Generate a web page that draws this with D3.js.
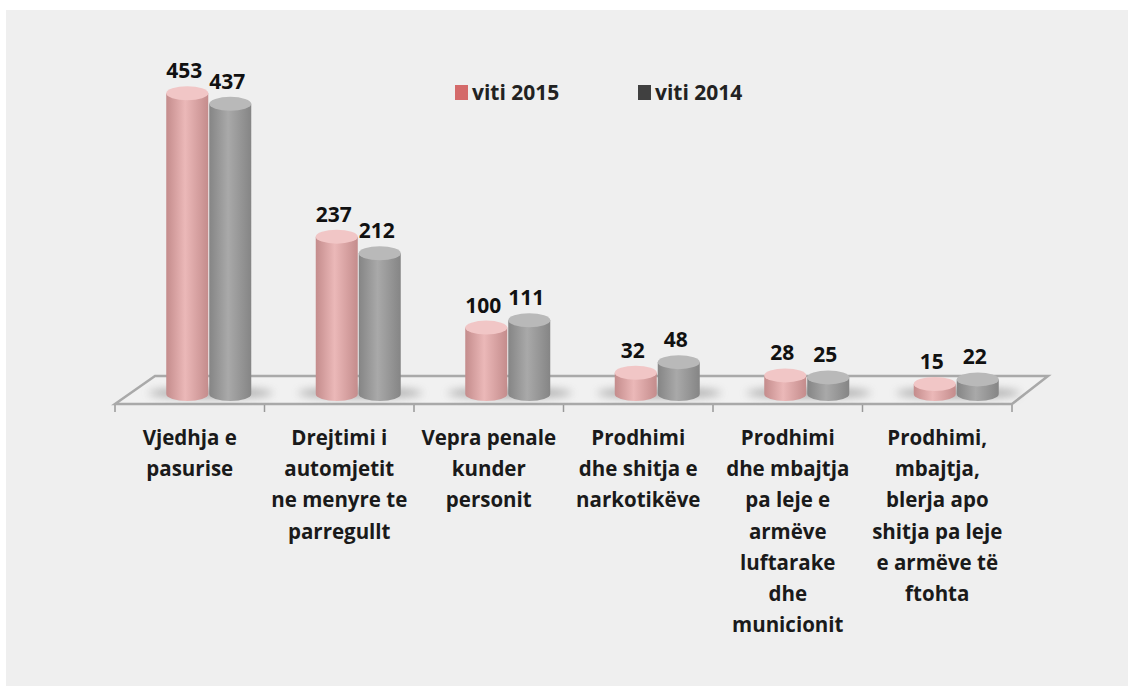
<!DOCTYPE html>
<html lang="sq">
<head>
<meta charset="UTF-8">
<title>Veprat penale 2015 / 2014</title>
<script src="https://d3js.org/d3.v7.min.js"></script>
<style>
  body { margin: 0; background: #fff; }
  svg text { font-family: "Open Sans", Lato, sans-serif; font-weight: bold; }
</style>
</head>
<body>
<svg width="1128" height="686"></svg>
<script>
// data
const categories = [
  ["Vjedhja e", "pasurise"],
  ["Drejtimi i", "automjetit", "ne menyre te", "parregullt"],
  ["Vepra penale", "kunder", "personit"],
  ["Prodhimi", "dhe shitja e", "narkotikëve"],
  ["Prodhimi", "dhe mbajtja", "pa leje e", "armëve", "luftarake", "dhe", "municionit"],
  ["Prodhimi,", "mbajtja,", "blerja apo", "shitja pa leje", "e armëve të", "ftohta"]
];
const seriesNames = ["viti 2015", "viti 2014"];
const values2015 = [453, 237, 100, 32, 28, 15];
const values2014 = [437, 212, 111, 48, 25, 22];

const svg = d3.select("svg");

// panel background
svg.append("rect").attr("x", 6).attr("y", 10).attr("width", 1122).attr("height", 676).attr("fill", "#efefef");

const x = d3.scaleBand().domain(d3.range(categories.length)).range([115, 1012]);
const y = d3.scaleLinear().domain([0, 500]).range([394, 62]);
const series = d3.scalePoint().domain([0, 1]).range([-21.5, 21.5]);

const depth = 19;   // shift of the mid-depth of the floor
const rx = 21, ry = 7;

// gradients
const defs = svg.append("defs");
function grad(id, edge, mid) {
  const g = defs.append("linearGradient").attr("id", id);
  g.append("stop").attr("offset", "0%").attr("stop-color", edge);
  g.append("stop").attr("offset", "45%").attr("stop-color", mid);
  g.append("stop").attr("offset", "100%").attr("stop-color", edge);
}
grad("g2015", "#c48c8c", "#ebb8b8");
grad("g2014", "#858585", "#a9a9a9");
defs.append("filter").attr("id", "blur")
  .attr("x", "-50%").attr("y", "-200%").attr("width", "200%").attr("height", "500%")
  .append("feGaussianBlur").attr("stdDeviation", 4);

const bodyFill = ["url(#g2015)", "url(#g2014)"];
const topFill = ["#f1c6c6", "#b9b9b9"];

// floor
const floor = [[115, 404], [1012, 404], [1048, 376], [155, 376]];
svg.append("polygon")
  .attr("points", floor.map(p => p.join(",")).join(" "))
  .attr("fill", "#f1f1f1").attr("stroke", "#a9a9a9").attr("stroke-width", 2.5);

// ticks
svg.append("g").selectAll("line")
  .data(d3.range(categories.length + 1))
  .join("line")
  .attr("x1", i => i < categories.length ? x(i) : x.range()[1])
  .attr("x2", i => i < categories.length ? x(i) : x.range()[1])
  .attr("y1", 405).attr("y2", 412)
  .attr("stroke", "#999").attr("stroke-width", 1.5);

// shadows
svg.append("g").selectAll("ellipse")
  .data(d3.range(categories.length))
  .join("ellipse")
  .attr("cx", i => x(i) + x.bandwidth() / 2 + depth + 2)
  .attr("cy", 393)
  .attr("rx", 62).attr("ry", 5)
  .attr("fill", "#6f6f6f").attr("opacity", 0.55)
  .attr("filter", "url(#blur)");

// cylinders
const bars = [];
categories.forEach((c, i) => {
  [values2015[i], values2014[i]].forEach((v, s) => bars.push({ i, s, v }));
});
const cx = d => x(d.i) + x.bandwidth() / 2 + depth + series(d.s);

const cyl = svg.append("g").selectAll("g").data(bars).join("g");
cyl.append("path")
  .attr("d", d => {
    const c = cx(d), top = y(d.v), bot = y(0);
    return `M${c - rx},${top} L${c - rx},${bot} A${rx},${ry} 0 0 0 ${c + rx},${bot} L${c + rx},${top} Z`;
  })
  .attr("fill", d => bodyFill[d.s]);
cyl.append("ellipse")
  .attr("cx", cx).attr("cy", d => y(d.v))
  .attr("rx", rx).attr("ry", ry)
  .attr("fill", d => topFill[d.s]);

// value labels
svg.append("g").selectAll("text").data(bars).join("text")
  .attr("x", d => cx(d) - 3)
  .attr("y", d => y(d.v) - 15)
  .attr("text-anchor", "middle")
  .attr("font-size", 21)
  .attr("fill", "#111")
  .text(d => d.v);

// category labels
const lab = svg.append("g").selectAll("text").data(categories).join("text")
  .attr("text-anchor", "middle")
  .attr("font-size", 20.5)
  .attr("fill", "#1a1a1a")
  .attr("transform", (d, i) => `translate(${x(i) + x.bandwidth() / 2},445)`);
lab.selectAll("tspan").data(d => d).join("tspan")
  .attr("x", 0).attr("y", (d, k) => k * 31.2)
  .text(d => d);

// legend
const legendColors = ["#d46a6a", "#404040"];
const leg = svg.append("g").selectAll("g").data(seriesNames).join("g")
  .attr("transform", (d, i) => `translate(${[455, 638][i]},85)`);
leg.append("rect").attr("width", 13).attr("height", 15).attr("fill", (d, i) => legendColors[i]);
leg.append("text").attr("x", 17).attr("y", 14.5).attr("font-size", 21).attr("fill", "#222").text(d => d);
</script>
</body>
</html>
